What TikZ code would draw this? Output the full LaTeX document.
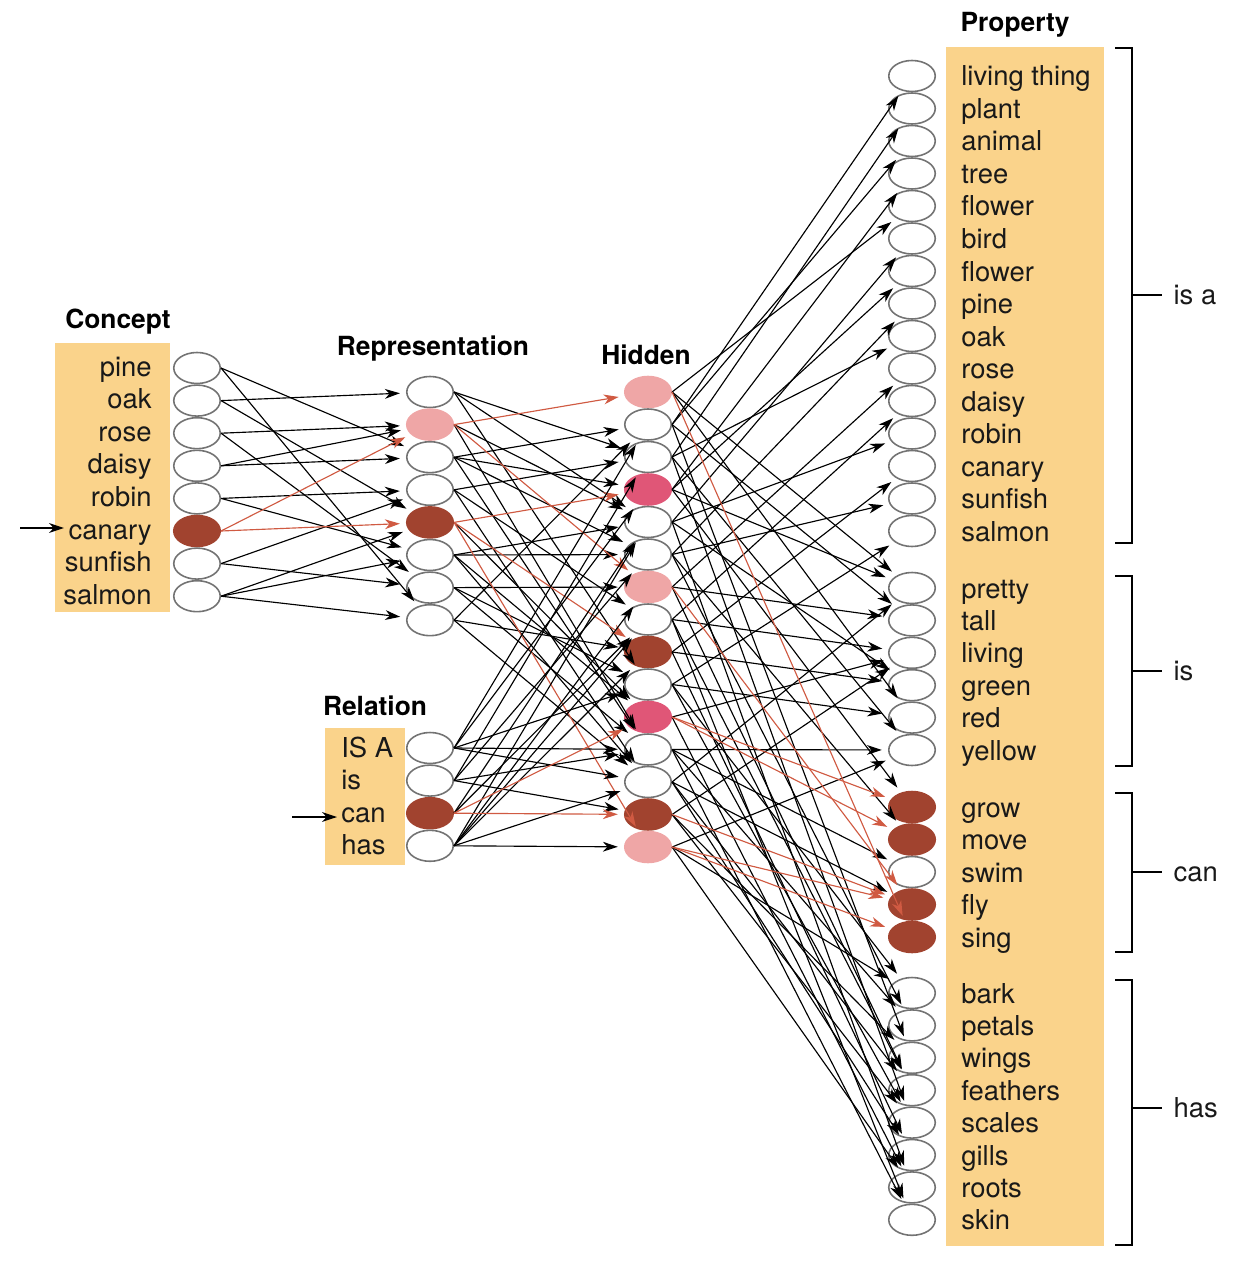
\documentclass[tikz,border=0pt]{standalone}
\usepackage{fontspec}
\setmainfont{TeX Gyre Heros}
\usepackage{xcolor}
\usepackage{tikz}
\usetikzlibrary{arrows.meta,shapes.geometric}

\definecolor{boxorange}{HTML}{FAD38B}
\definecolor{unitdark}{HTML}{A1432F}
\definecolor{unitpink}{HTML}{EFA6A6}
\definecolor{unitrose}{HTML}{E05677}
\definecolor{wtred}{HTML}{D05A42}

\tikzset{
  unit/.style={ellipse,draw=black!55,line width=0.9pt,fill=white,
    minimum width=0.93cm,minimum height=0.62cm,inner sep=0pt},
  ondark/.style={unit,fill=unitdark,draw=unitdark},
  onpink/.style={unit,fill=unitpink,draw=unitpink},
  onrose/.style={unit,fill=unitrose,draw=unitrose},
  wt/.style={-{Stealth[length=8.5pt,width=5.6pt,inset=2.6pt]},line width=0.65pt,shorten >=3.5pt},
  redwt/.style={wt,draw=wtred},
  lbl/.style={font=\fontsize{15.6}{18}\selectfont,text=black!90,inner sep=0pt},
  ttl/.style={font=\fontsize{15}{18}\selectfont\bfseries,inner sep=0pt,anchor=base},
  layerbox/.style={fill=boxorange}
}

\begin{document}
\begin{tikzpicture}[x=0.02cm,y=-0.02cm]
  \useasboundingbox (0,0) rectangle (1240,1280);

  % boxes behind the labels
  \fill[layerbox] (55,343) rectangle (170,612);
  \fill[layerbox] (325,728) rectangle (405,865);
  \fill[layerbox] (946,47) rectangle (1104,1246);

  % titles
  \node[ttl] (concepttitle) at (118,328) {Concept};
  \node[ttl] (reptitle) at (433,355) {Representation};
  \node[ttl] (hiddentitle) at (646,364) {Hidden};
  \node[ttl] (reltitle) at (375,715) {Relation};
  \node[ttl] (proptitle) at (1015,32) {Property};

  % concept layer
  \foreach \n/\s [count=\i] in {pine/unit,oak/unit,rose/unit,daisy/unit,
      robin/unit,canary/ondark,sunfish/unit,salmon/unit} {
    \node[\s] (c\i) at (197,{368+32.6*(\i-1)}) {};
    \node[lbl,anchor=base east] (cl\i) at (152,{376+32.6*(\i-1)}) {\n};
  }

  % representation layer
  \foreach \s [count=\i] in {unit,onpink,unit,unit,ondark,unit,unit,unit}
    \node[\s] (r\i) at (430,{392+32.6*(\i-1)}) {};

  % relation layer
  \foreach \n/\s [count=\i] in {IS A/unit,is/unit,can/ondark,has/unit} {
    \node[\s] (q\i) at (430,{748+32.6*(\i-1)}) {};
    \node[lbl,anchor=base west] (ql\i) at (341,{757+32.6*(\i-1)}) {\n};
  }

  % hidden layer
  \foreach \s [count=\i] in {onpink,unit,unit,onrose,unit,unit,onpink,unit,
      ondark,unit,onrose,unit,unit,ondark,onpink}
    \node[\s] (h\i) at (648,{392+32.5*(\i-1)}) {};

  % property layer
  \foreach \n [count=\i] in {living thing,plant,animal,tree,flower,bird,flower,
      pine,oak,rose,daisy,robin,canary,sunfish,salmon} {
    \node[unit] (p\i) at (912,{76+32.5*(\i-1)}) {};
    \node[lbl,anchor=base west] (pl\i) at (961,{86+32.5*(\i-1)}) {\n};
  }
  \foreach \n [count=\i from 16] in {pretty,tall,living,green,red,yellow} {
    \node[unit] (p\i) at (912,{588+32.4*(\i-16)}) {};
    \node[lbl,anchor=base west] (pl\i) at (961,{598+32.4*(\i-16)}) {\n};
  }
  \foreach \n/\s [count=\i from 22] in {grow/ondark,move/ondark,swim/unit,
      fly/ondark,sing/ondark} {
    \node[\s] (p\i) at (912,{807+32.5*(\i-22)}) {};
    \node[lbl,anchor=base west] (pl\i) at (961,{817+32.5*(\i-22)}) {\n};
  }
  \foreach \n [count=\i from 27] in {bark,petals,wings,feathers,scales,gills,
      roots,skin} {
    \node[unit] (p\i) at (912,{993+32.4*(\i-27)}) {};
    \node[lbl,anchor=base west] (pl\i) at (961,{1003+32.4*(\i-27)}) {\n};
  }

  % brackets
  \draw[line width=0.7pt] (1115,48) -| (1132,543) -- (1115,543);
  \draw[line width=0.7pt] (1132,295) -- (1162,295)
    node[lbl,anchor=base west] (isalbl) at (1173,304) {is a};
  \draw[line width=0.7pt] (1115,576) -| (1132,766) -- (1115,766);
  \draw[line width=0.7pt] (1132,671) -- (1162,671)
    node[lbl,anchor=base west] (islbl) at (1173,680) {is};
  \draw[line width=0.7pt] (1115,793) -| (1132,952) -- (1115,952);
  \draw[line width=0.7pt] (1132,872) -- (1162,872)
    node[lbl,anchor=base west] (canlbl) at (1173,881) {can};
  \draw[line width=0.7pt] (1115,980) -| (1132,1245) -- (1115,1245);
  \draw[line width=0.7pt] (1132,1108) -- (1162,1108)
    node[lbl,anchor=base west] (haslbl) at (1173,1117) {has};

  % inputs
  \coordinate (conceptin) at (20,528);
  \coordinate (conceptend) at (64,528);
  \coordinate (relin) at (292,817);
  \coordinate (relend) at (337,817);
  \draw[wt,shorten >=0pt] (conceptin) -- (conceptend);
  \draw[wt,shorten >=0pt] (relin) -- (relend);

  % concept to representation
  \foreach \s/\t in {1/3,1/8,2/1,2/5,3/2,3/7,4/2,4/3,5/4,5/6,7/4,7/7,8/5,8/6,8/8}
    \draw[wt] (c\s.east) -- (r\t);
  \foreach \s/\t in {6/2,6/5}
    \draw[redwt] (c\s.east) -- (r\t);

  % representation and relation to hidden
  \foreach \s/\t in {1/3,1/5,1/10,2/5,2/12,3/2,3/4,3/6,3/12,4/3,4/8,4/13,
      5/11,6/5,6/6,6/11,6/13,7/7,7/10,7/12,8/2,8/9,8/13}
    \draw[wt] (r\s.east) -- (h\t);
  \foreach \s/\t in {2/1,2/7,5/4,5/9,5/15}
    \draw[redwt] (r\s.east) -- (h\t);
  \foreach \s/\t in {1/2,1/4,1/10,1/12,1/13,2/3,2/6,2/12,2/14,3/5,3/8,
      4/5,4/7,4/8,4/9,4/13,4/15}
    \draw[wt] (q\s.east) -- (h\t);
  \foreach \s/\t in {3/11,3/14}
    \draw[redwt] (q\s.east) -- (h\t);

  % hidden to property
  \foreach \s/\t in {1/5,1/16,1/20,2/1,2/3,2/17,2/29,3/2,3/9,3/21,3/31,
      4/4,4/7,4/16,4/22,5/6,5/12,5/19,5/33,6/8,6/14,6/23,6/28,
      7/10,7/17,7/30,8/11,8/18,8/30,8/34,9/13,9/19,9/32,
      10/15,10/20,10/27,10/31,11/18,11/33,12/21,12/24,12/28,12/34,
      13/16,13/25,13/30,13/32,14/18,14/29,14/31,15/21,15/27,15/33}
    \draw[wt] (h\s.east) -- (p\t);
  \foreach \s/\t in {1/26,7/25,11/22,11/23,14/25,15/25,15/26}
    \draw[redwt] (h\s.east) -- (p\t);
\end{tikzpicture}
\end{document}
